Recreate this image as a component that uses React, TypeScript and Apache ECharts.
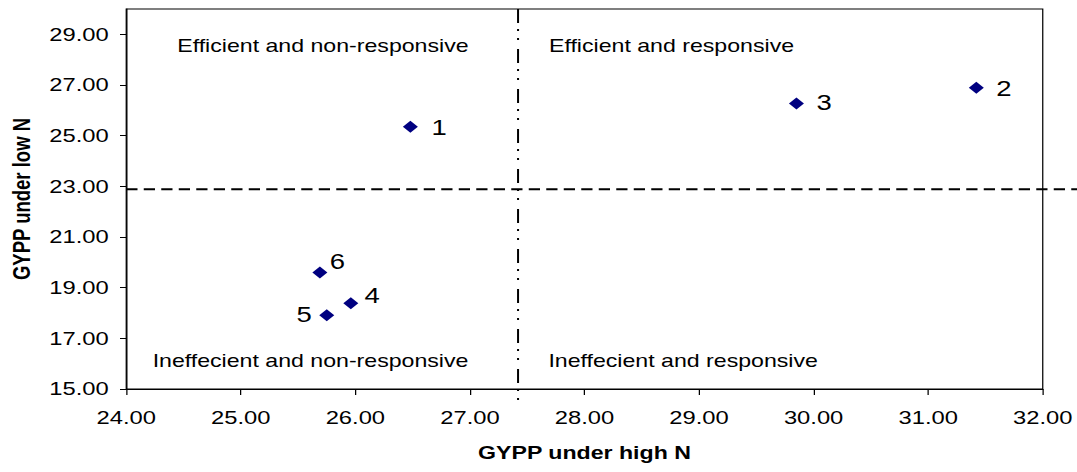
import React, { useEffect, useRef } from "react";
import * as echarts from "echarts";

// ---- data ----
const pointNames = ["1", "2", "3", "4", "5", "6"];
const xValues = [26.48, 31.42, 29.85, 25.96, 25.75, 25.69];
const yValues = [25.35, 26.89, 26.27, 18.38, 17.91, 19.6];
const xTickValues = [24, 25, 26, 27, 28, 29, 30, 31, 32];
const yTickValues = [15, 17, 19, 21, 23, 25, 27, 29];
const thresholdX = 27.42;
const thresholdY = 22.88;
const quadrantLabels = [
  "Efficient and non-responsive",
  "Efficient and responsive",
  "Ineffecient and non-responsive",
  "Ineffecient and responsive",
];
const xAxisTitle = "GYPP under high N";
const yAxisTitle = "GYPP under low N";

// ---- layout ----
const S = 1.25; // horizontal stretch of the whole picture
const H = 472;
const W = 1077 / S;
const FONT = "'Liberation Sans', Arial, sans-serif";

const labelLayouts: Record<string, any> = {
  "1": { position: "right", distance: 11, offset: [0, 0] },
  "2": { position: "right", distance: 10, offset: [0, 0] },
  "3": { position: "right", distance: 10, offset: [0, -1] },
  "4": { position: "right", distance: 5, offset: [0, -8] },
  "5": { position: "left", distance: 6, offset: [0, -1] },
  "6": { position: "right", distance: 2, offset: [0, -11] },
};

const quadrantPos = [
  [141.8, 45],
  [439.2, 45],
  [122.1, 360.5],
  [438.7, 360.5],
];

export default function App() {
  const ref = useRef<HTMLDivElement>(null);
  useEffect(() => {
    document.body.style.margin = "0";
    const chart = echarts.init(ref.current!, null, {
      renderer: "svg",
      width: W,
      height: H,
    });
    const data = pointNames.map((n, i) => ({
      name: n,
      value: [xValues[i], yValues[i]],
      label: {
        show: true,
        formatter: n,
        color: "#000",
        fontSize: 22,
        fontFamily: FONT,
        ...labelLayouts[n],
      },
    }));
    const xMin = xTickValues[0];
    const xMax = xTickValues[xTickValues.length - 1];
    const yMin = yTickValues[0];
    const yMax = 30;
    chart.setOption({
      animation: false,
      backgroundColor: "#fff",
      grid: {
        left: 100,
        right: W - 834.2,
        top: 9,
        bottom: H - 389,
        show: true,
        borderColor: "#000",
        borderWidth: 1,
        backgroundColor: "transparent",
      },
      xAxis: {
        type: "value",
        min: xMin,
        max: xMax,
        interval: 1,
        name: xAxisTitle,
        nameLocation: "middle",
        nameGap: 54,
        nameTextStyle: {
          fontSize: 18.5,
          fontWeight: "bold",
          fontFamily: FONT,
          color: "#000",
        },
        axisLine: { show: true, lineStyle: { color: "#000", width: 1 } },
        axisTick: { show: true, length: 6, lineStyle: { color: "#000" } },
        axisLabel: {
          fontSize: 19,
          fontFamily: FONT,
          color: "#000",
          margin: 19,
          formatter: (v: number) => v.toFixed(2),
        },
        splitLine: { show: false },
      },
      yAxis: {
        type: "value",
        min: yMin,
        max: yMax,
        name: yAxisTitle,
        nameLocation: "middle",
        nameGap: 74,
        nameRotate: 90,
        nameTextStyle: {
          fontSize: 18.5,
          fontWeight: "bold",
          fontFamily: FONT,
          color: "#000",
        },
        axisLine: { show: true, lineStyle: { color: "#000", width: 1 } },
        axisTick: {
          show: true,
          length: 5,
          customValues: yTickValues,
          lineStyle: { color: "#000" },
        },
        axisLabel: {
          fontSize: 19,
          fontFamily: FONT,
          color: "#000",
          margin: 14,
          customValues: yTickValues,
          formatter: (v: number) => v.toFixed(2),
        },
        splitLine: { show: false },
      },
      series: [
        {
          type: "scatter",
          symbol: "diamond",
          symbolSize: 12,
          itemStyle: { color: "#000080", opacity: 1 },
          data,
          z: 5,
        },
      ],
    });

    const cross = chart.convertToPixel({ gridIndex: 0 }, [thresholdX, thresholdY]) as number[];
    const tl = chart.convertToPixel({ gridIndex: 0 }, [xMin, yMax]) as number[];
    const br = chart.convertToPixel({ gridIndex: 0 }, [xMax, yMin]) as number[];

    chart.setOption({
      graphic: [
        {
          type: "line",
          z: 3,
          shape: { x1: tl[0], y1: cross[1], x2: W, y2: cross[1] },
          style: { stroke: "#000", lineWidth: 2, lineDash: [9, 5] },
        },
        {
          type: "line",
          z: 3,
          shape: { x1: cross[0], y1: tl[1], x2: cross[0], y2: br[1] + 12 },
          style: { stroke: "#000", lineWidth: 1.6, lineDash: [14, 6, 2, 7, 2, 9] },
        },
        ...quadrantLabels.map((t, i) => ({
          type: "text",
          z: 4,
          x: quadrantPos[i][0],
          y: quadrantPos[i][1],
          style: {
            text: t,
            fontSize: 18.5,
            fontFamily: FONT,
            fill: "#000",
            align: "left",
            verticalAlign: "middle",
          },
        })),
      ],
    });
    return () => chart.dispose();
  }, []);
  return (
    <div
      style={{
        position: "fixed",
        left: 0,
        top: 0,
        width: W,
        height: H,
        transform: `scaleX(${S})`,
        transformOrigin: "0 0",
        background: "#fff",
      }}
    >
      <div ref={ref} style={{ width: W, height: H }} />
    </div>
  );
}
